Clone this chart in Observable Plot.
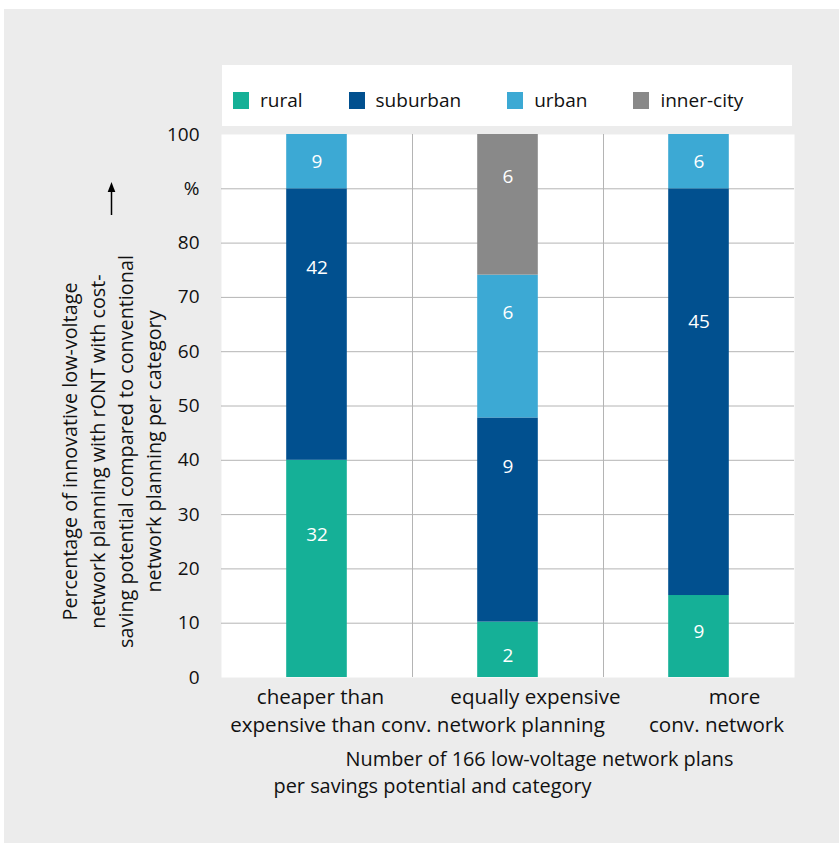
<!DOCTYPE html>
<html>
<head>
<meta charset="utf-8">
<script src="https://cdn.jsdelivr.net/npm/d3@7"></script>
<script src="https://cdn.jsdelivr.net/npm/@observablehq/plot@0.6"></script>
<style>
  html, body { margin: 0; padding: 0; background: #ffffff; }
  body { width: 839px; height: 843px; position: relative; overflow: hidden; font-family: "Open Sans", sans-serif; }
  #panel { position: absolute; left: 4px; top: 9px; width: 835px; height: 834px; background: #ececec; }
  #legend { position: absolute; left: 222px; top: 65px; width: 570px; height: 61px; background: #ffffff;
            display: flex; align-items: center; box-sizing: border-box; padding-left: 11px; padding-top: 9px; }
  .item { display: flex; align-items: center; font-size: 19px; color: #111; margin-right: 46px; }
  .sw { width: 16px; height: 17px; margin-right: 11px; }
  #chart { position: absolute; left: 0; top: 126px; }
</style>
</head>
<body>
<div id="panel"></div>
<div id="legend"></div>
<div id="chart"></div>
<script>
// ---- data ----
const categories = ["cheaper", "equally", "more"];
const seriesNames = ["rural", "suburban", "urban", "inner-city"];
const colors = ["#15b097", "#01508f", "#3ca9d4", "#898989"];

// share of plans in percent (stacked)
const rural     = [40.0, 10.2, 15.1];
const suburban  = [50.0, 37.6, 74.9];
const urban     = [10.0, 26.3, 10.0];
const innerCity = [0,    25.9, 0];

// number of plans shown as labels
const ruralCount     = [32, 2, 9];
const suburbanCount  = [42, 9, 45];
const urbanCount     = [9, 6, 6];
const innerCityCount = [null, 6, null];

// value at which each label sits
const ruralLabelAt     = [26.2, 4.0, 8.4];
const suburbanLabelAt  = [75.5, 38.8, 65.4];
const urbanLabelAt     = [94.9, 67.2, 94.9];
const innerCityLabelAt = [null, 92.2, null];

const yTicks = [0, 10, 20, 30, 40, 50, 60, 70, 80, 90, 100];
const yTickLabels = ["0", "10", "20", "30", "40", "50", "60", "70", "80", "%", "100"];

const xLabelLine1 = ["cheaper than", "equally expensive", "more"];
const xLabelLine2 = ["expensive than conv. network planning", "", "conv. network"];
const yTitle = "Percentage of innovative low-voltage\nnetwork planning with rONT with cost-\nsaving potential compared to conventional\nnetwork planning per category";
const xTitle1 = "Number of 166 low-voltage network plans";
const xTitle2 = "per savings potential and category";

// ---- build tables ----
const valueSets = [rural, suburban, urban, innerCity];
const countSets = [ruralCount, suburbanCount, urbanCount, innerCityCount];
const labelSets = [ruralLabelAt, suburbanLabelAt, urbanLabelAt, innerCityLabelAt];
const rows = [];
const labels = [];
categories.forEach((c, i) => {
  seriesNames.forEach((s, j) => {
    rows.push({cat: c, type: s, value: valueSets[j][i]});
    if (countSets[j][i] != null) labels.push({cat: c, at: labelSets[j][i], n: countSets[j][i]});
  });
});

// ---- layout / style ----
const W = 839, H = 717;
const mL = 221, mR = 45, mT = 8, mB = 166;
const bw = (W - mL - mR) / categories.length;
const FS = 19;
const FS_X = 20.6;
const FS_XT = 19.9;
const FS_YT = 19.8;
const line1Shift = [3.5, 27.5, 35.5];
const line2Shift = [100.5, 0, 17.5];

// legend
const legend = document.getElementById("legend");
seriesNames.forEach((s, j) => {
  const it = document.createElement("div");
  it.className = "item";
  it.innerHTML = `<span class="sw" style="background:${colors[j]}"></span><span>${s}</span>`;
  legend.appendChild(it);
});

const arrowMark = (index, scales, values, dims) => {
  const g = d3.create("svg:g");
  const x = dims.marginLeft - 109.5;
  const yTip = dims.marginTop + 48, yTail = dims.marginTop + 81;
  g.append("line").attr("x1", x).attr("x2", x).attr("y1", yTip + 6).attr("y2", yTail)
    .attr("stroke", "#000").attr("stroke-width", 1.5);
  g.append("path").attr("d", `M${x},${yTip} L${x - 3.8},${yTip + 10} L${x + 3.8},${yTip + 10} Z`).attr("fill", "#000");
  return g.node();
};

const marks = [
  Plot.frame({fill: "#ffffff", stroke: null}),
  Plot.gridY(yTicks.filter(t => t > 0 && t < 100), {stroke: "#b4b4b4", strokeOpacity: 1, strokeWidth: 1}),
  Plot.ruleX(categories.slice(1), {x: d => d, dx: -bw / 2, stroke: "#b4b4b4", strokeWidth: 1}),
  Plot.barY(rows, {x: "cat", y: "value", fill: "type", insetLeft: 65.2, insetRight: 65.2}),
  Plot.text(labels, {x: "cat", y: "at", text: "n", fill: "#ffffff", fontSize: FS}),
  Plot.text([yTitle], {frameAnchor: "left", rotate: -90, textAnchor: "middle", lineAnchor: "top",
    lineHeight: 28 / FS_YT, dx: -164.5, dy: 45.5, fontSize: FS_YT, fill: "#111"}),
  Plot.text([xTitle1], {frameAnchor: "bottom", lineAnchor: "bottom", dy: 88, dx: 31.5, fontSize: FS_XT, fill: "#111"}),
  Plot.text([xTitle2], {frameAnchor: "bottom", lineAnchor: "bottom", dy: 115, dx: -75.5, fontSize: FS_XT, fill: "#111"}),
  arrowMark
];
categories.forEach((c, i) => {
  marks.push(Plot.text([c], {x: d => d, text: () => xLabelLine1[i], frameAnchor: "bottom", lineAnchor: "bottom",
    dy: 26, dx: line1Shift[i], fontSize: FS_X, fill: "#111"}));
  if (xLabelLine2[i]) marks.push(Plot.text([c], {x: d => d, text: () => xLabelLine2[i], frameAnchor: "bottom",
    lineAnchor: "bottom", dy: 54, dx: line2Shift[i], fontSize: FS_X, fill: "#111"}));
});

const chart = Plot.plot({
  width: W, height: H,
  marginLeft: mL, marginRight: mR, marginTop: mT, marginBottom: mB,
  style: {fontFamily: "Open Sans", fontSize: FS + "px", background: "transparent", color: "#111", overflow: "visible"},
  x: {domain: categories, padding: 0, axis: null},
  y: {domain: [0, 100], ticks: yTicks, tickFormat: d => yTickLabels[yTicks.indexOf(d)], tickSize: 0, tickPadding: 22, label: null},
  color: {domain: seriesNames, range: colors},
  marks
});
document.getElementById("chart").appendChild(chart);
</script>
</body>
</html>
